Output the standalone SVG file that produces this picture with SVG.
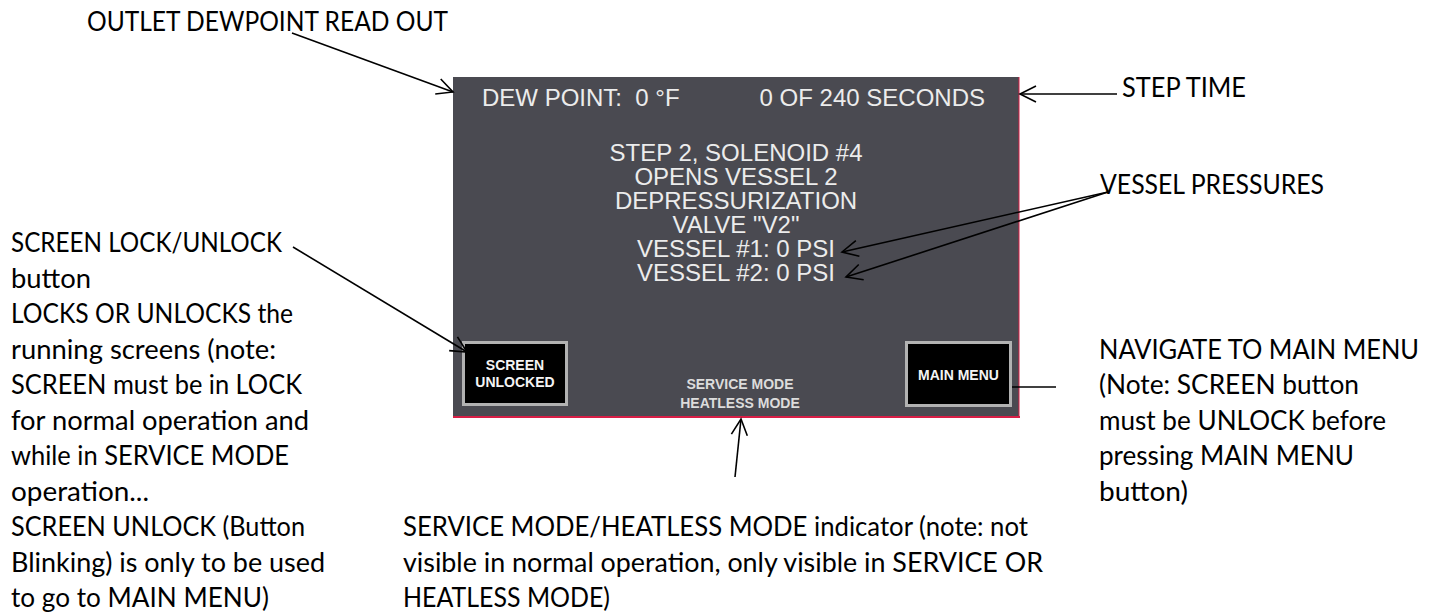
<svg xmlns="http://www.w3.org/2000/svg" width="1434" height="616" viewBox="0 0 1434 616">
<style>
.lbl{font-family:Lato,"Open Sans","Liberation Sans",sans-serif;font-size:26px;fill:#000}
.hmi{font-family:"Liberation Sans",Arial,sans-serif;font-size:24px;fill:#ececec}
.btn{font-family:"Liberation Sans",Arial,sans-serif;font-size:14px;font-weight:bold;fill:#f4f4f4}
.mode{font-family:"Liberation Sans",Arial,sans-serif;font-size:14px;font-weight:bold;fill:#dcdcdc}
.con{stroke:#000;stroke-width:1.6;fill:none}
</style>
<defs>
<marker id="ah" viewBox="-20 -12 24 24" refX="0" refY="0" markerWidth="24" markerHeight="24" markerUnits="userSpaceOnUse" orient="auto">
<path d="M -16 -8 L 0 0 L -16 8" fill="none" stroke="#000" stroke-width="1.6"/>
</marker>
</defs>
<rect width="1434" height="616" fill="#fff"/>
<g id="screen">
<rect x="453" y="77" width="566" height="340" fill="#4a4a51"/>
<line x1="1019" y1="77" x2="1019" y2="417" stroke="#d81e46" stroke-width="1"/>
<line x1="453" y1="417" x2="1020" y2="417" stroke="#d81e46" stroke-width="2"/>
<text class="hmi" x="482" y="106" xml:space="preserve">DEW POINT:  0 °F</text>
<text class="hmi" x="985" y="106" text-anchor="end">0 OF 240 SECONDS</text>
<g text-anchor="middle">
<text class="hmi" x="736" y="161">STEP 2, SOLENOID #4</text>
<text class="hmi" x="736" y="185">OPENS VESSEL 2</text>
<text class="hmi" x="736" y="209">DEPRESSURIZATION</text>
<text class="hmi" x="736" y="233">VALVE "V2"</text>
<text class="hmi" x="736" y="257">VESSEL #1: 0 PSI</text>
<text class="hmi" x="736" y="281">VESSEL #2: 0 PSI</text>
</g>
</g>
<g id="btn-screen">
<rect x="462" y="341" width="106" height="65" fill="#b2b2b2"/>
<rect x="465" y="344" width="100" height="59" fill="#000"/>
<text class="btn" x="515" y="370" text-anchor="middle">SCREEN</text>
<text class="btn" x="515" y="387" text-anchor="middle">UNLOCKED</text>
</g>
<g id="btn-main">
<rect x="905" y="341" width="107" height="66" fill="#b2b2b2"/>
<rect x="908" y="344" width="101" height="60" fill="#000"/>
<text class="btn" x="958.5" y="380" text-anchor="middle">MAIN MENU</text>
</g>
<g id="mode-indicator">
<text class="mode" x="740" y="389" text-anchor="middle">SERVICE MODE</text>
<text class="mode" x="740" y="408" text-anchor="middle">HEATLESS MODE</text>
</g>
<g id="label-outlet"><text class="lbl" x="87" y="31" textLength="361" lengthAdjust="spacingAndGlyphs">OUTLET DEWPOINT READ OUT</text></g>
<g id="label-step"><text class="lbl" x="1122" y="97" textLength="124" lengthAdjust="spacingAndGlyphs">STEP TIME</text></g>
<g id="label-vessel"><text class="lbl" x="1100" y="194" textLength="224" lengthAdjust="spacingAndGlyphs">VESSEL PRESSURES</text></g>
<g id="label-lock">
<text class="lbl" x="11" y="252" textLength="271" lengthAdjust="spacingAndGlyphs">SCREEN LOCK/UNLOCK</text>
<text class="lbl" x="11" y="287.5" textLength="80" lengthAdjust="spacingAndGlyphs">button</text>
<text class="lbl" x="11" y="323" textLength="282" lengthAdjust="spacingAndGlyphs">LOCKS OR UNLOCKS the</text>
<text class="lbl" x="11" y="358.5" textLength="265" lengthAdjust="spacingAndGlyphs">running screens (note:</text>
<text class="lbl" x="11" y="394" textLength="291" lengthAdjust="spacingAndGlyphs">SCREEN must be in LOCK</text>
<text class="lbl" x="11" y="429.5" textLength="298" lengthAdjust="spacingAndGlyphs">for normal operation and</text>
<text class="lbl" x="11" y="465" textLength="278" lengthAdjust="spacingAndGlyphs">while in SERVICE MODE</text>
<text class="lbl" x="11" y="500.5" textLength="138" lengthAdjust="spacingAndGlyphs">operation...</text>
<text class="lbl" x="11" y="536" textLength="294" lengthAdjust="spacingAndGlyphs">SCREEN UNLOCK (Button</text>
<text class="lbl" x="11" y="571.5" textLength="314" lengthAdjust="spacingAndGlyphs">Blinking) is only to be used</text>
<text class="lbl" x="11" y="607" textLength="258" lengthAdjust="spacingAndGlyphs">to go to MAIN MENU)</text>
</g>
<g id="label-nav">
<text class="lbl" x="1099" y="358.5" textLength="320" lengthAdjust="spacingAndGlyphs">NAVIGATE TO MAIN MENU</text>
<text class="lbl" x="1099" y="394" textLength="260" lengthAdjust="spacingAndGlyphs">(Note: SCREEN button</text>
<text class="lbl" x="1099" y="429.5" textLength="287" lengthAdjust="spacingAndGlyphs">must be UNLOCK before</text>
<text class="lbl" x="1099" y="465" textLength="255" lengthAdjust="spacingAndGlyphs">pressing MAIN MENU</text>
<text class="lbl" x="1099" y="500.5" textLength="89" lengthAdjust="spacingAndGlyphs">button)</text>
</g>
<g id="label-mode">
<text class="lbl" x="403" y="536" textLength="625" lengthAdjust="spacingAndGlyphs">SERVICE MODE/HEATLESS MODE indicator (note: not</text>
<text class="lbl" x="403" y="571.5" textLength="640" lengthAdjust="spacingAndGlyphs">visible in normal operation, only visible in SERVICE OR</text>
<text class="lbl" x="403" y="607" textLength="207" lengthAdjust="spacingAndGlyphs">HEATLESS MODE)</text>
</g>
<g id="connectors">
<line class="con" x1="292" y1="33" x2="453" y2="92" marker-end="url(#ah)"/>
<line class="con" x1="1117" y1="94" x2="1020" y2="94" marker-end="url(#ah)"/>
<line class="con" x1="1108" y1="192" x2="842" y2="252" marker-end="url(#ah)"/>
<line class="con" x1="1108" y1="192" x2="846" y2="277" marker-end="url(#ah)"/>
<line class="con" x1="293" y1="247" x2="467" y2="352" marker-end="url(#ah)"/>
<line class="con" x1="1012" y1="387" x2="1056" y2="387"/>
<line class="con" x1="735" y1="477" x2="741" y2="419" marker-end="url(#ah)"/>
</g>
</svg>
